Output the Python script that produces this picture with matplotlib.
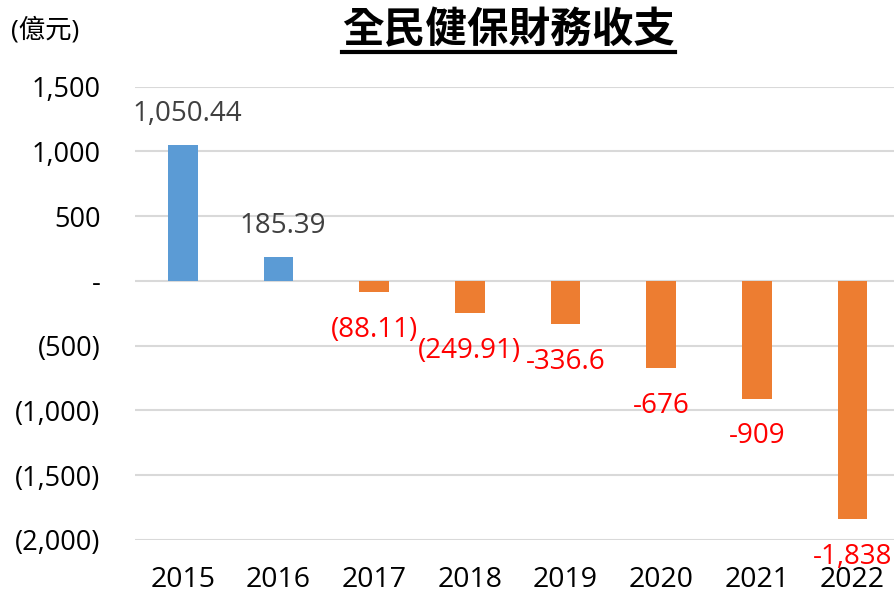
import matplotlib
matplotlib.use("Agg")
import matplotlib.pyplot as plt
from matplotlib.lines import Line2D

plt.rcParams["font.family"] = ["Open Sans", "Noto Sans CJK TC", "DejaVu Sans"]

years = ["2015", "2016", "2017", "2018", "2019", "2020", "2021", "2022"]
balance = [1050.44, 185.39, -88.11, -249.91, -336.6, -676, -909, -1838]
value_labels = ["1,050.44", "185.39", "(88.11)", "(249.91)", "-336.6", "-676", "-909", "-1,838"]
y_ticks = [1500, 1000, 500, 0, -500, -1000, -1500, -2000]
y_tick_labels = ["1,500", "1,000", "500", "-", "(500)", "(1,000)", "(1,500)", "(2,000)"]

BLUE = "#5B9BD5"
ORANGE = "#ED7D31"

fig = plt.figure(figsize=(8.95, 5.99), dpi=100)
ax = fig.add_axes([0.151, 0.0985, 0.855, 0.757])

x = list(range(len(years)))
colors = [BLUE if v >= 0 else ORANGE for v in balance]
ax.bar(x, balance, width=0.31, color=colors, zorder=3)

for xi, v, lab in zip(x, balance, value_labels):
    if v >= 0:
        ax.annotate(lab, (xi, v), xytext=(3, 22.5), textcoords="offset points",
                    ha="center", va="center", fontsize=20, color="#404040")
    else:
        ax.annotate(lab, (xi, v), xytext=(0, -27), textcoords="offset points",
                    ha="center", va="center", fontsize=20, color="red")

ax.set_xlim(-0.5, len(years) - 0.5)
ax.set_ylim(-2000, 1500)
ax.set_xticks(x)
ax.set_xticklabels(years, fontsize=20.5)
ax.set_yticks(y_ticks)
ax.set_yticklabels(y_tick_labels, fontsize=19.5)
ax.tick_params(axis="both", length=0)
ax.tick_params(axis="y", pad=25)
ax.tick_params(axis="x", pad=19)
ax.grid(axis="y", color="#d9d9d9", linewidth=1.5, zorder=0)
for s in ax.spines.values():
    s.set_visible(False)

fig.text(0.012, 0.950, "(億元)", fontsize=19, ha="left", va="center")
title = fig.text(0.568, 0.950, "全民健保財務收支", fontsize=30, fontweight="bold",
                 ha="center", va="center", family=["Noto Sans CJK TC"])

# underline the title
fig.canvas.draw()
bb = title.get_window_extent(fig.canvas.get_renderer()).transformed(fig.transFigure.inverted())
fig.add_artist(Line2D([bb.x0, bb.x1], [bb.y0 - 0.002, bb.y0 - 0.002], color="black",
                      linewidth=3, transform=fig.transFigure))

fig.savefig("out.png", dpi=100)
